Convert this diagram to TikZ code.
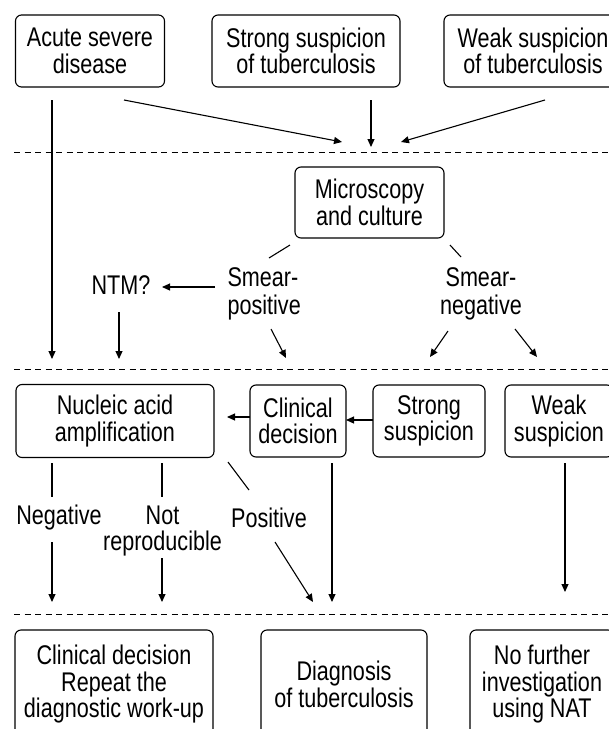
\documentclass[tikz,border=0pt]{standalone}
\usepackage{fontspec}
\setmainfont{Liberation Sans}[FakeStretch=0.8]
\usetikzlibrary{arrows.meta}
\begin{document}
\begin{tikzpicture}[x=1pt,y=-1pt,line width=1.1pt,
  box/.style={draw,rounded corners=6pt,align=center,inner sep=0pt,font=\fontsize{27}{26.5}\selectfont},
  lab/.style={align=center,inner sep=1pt,font=\fontsize{27}{26.5}\selectfont},
  arr/.style={-{Triangle[length=8pt,width=7pt]}},
  dsh/.style={line width=1pt,dash pattern=on 6pt off 4.5pt}]
\useasboundingbox (0,0) rectangle (609,729);
\clip (0,0) rectangle (609,729);
% top row
\node[box,minimum width=149pt,minimum height=72pt] (acute) at (90,51) {Acute severe\\disease};
\node[box,minimum width=188pt,minimum height=72pt] (strong) at (306,51) {Strong suspicion\\of tuberculosis};
\node[box,minimum width=178pt,minimum height=72pt] (weak) at (533,51) {Weak suspicion\\of tuberculosis};
% second row
\node[box,minimum width=149pt,minimum height=71pt] (micro) at (369.5,202.5) {Microscopy\\and culture};
\node[lab,align=left,anchor=west] (spos) at (226,294) {Smear-\\[1.5pt]positive};
\node[lab] (sneg) at (481,294) {Smear-\\[1.5pt]negative};
\node[lab] (ntm) at (121,285.5) {NTM?};
% third row
\node[box,minimum width=198pt,minimum height=73pt] (naa) at (115,421) {Nucleic acid\\amplification};
\node[box,minimum width=96pt,minimum height=72pt] (clin) at (298,421) {Clinical\\decision};
\node[box,minimum width=112pt,minimum height=72pt] (strong2) at (429,421) {Strong\\suspicion};
\node[box,minimum width=108pt,minimum height=72pt] (weak2) at (559,421) {Weak\\suspicion};
\node[lab] (neg) at (59,518) {Negative};
\node[lab] (notr) at (162.5,531) {Not\\reproducible};
\node[lab] (pos) at (269,518) {Positive};
% bottom row
\node[box,minimum width=198pt,minimum height=109pt] (cd) at (114,684.5) {Clinical decision\\Repeat the\\diagnostic work-up};
\node[box,minimum width=166pt,minimum height=109pt] (diag) at (344,684.5) {Diagnosis\\of tuberculosis};
\node[box,minimum width=144pt,minimum height=109pt] (nof) at (542,684.5) {No further\\investigation\\using NAT};
% dashed separators
\draw[dsh] (14,152) -- (609,152);
\draw[dsh] (14,369) -- (609,369);
\draw[dsh] (14,614) -- (609,614);
% coordinates
\coordinate (a1s) at (124,100); \coordinate (a1e) at (342,142);
\coordinate (a2s) at (371,100); \coordinate (a2e) at (371,147);
\coordinate (a3s) at (545,100); \coordinate (a3e) at (401,142);
\coordinate (a4s) at (52,100);  \coordinate (a4e) at (52,359);
\coordinate (m1s) at (290,245); \coordinate (m1e) at (269,258);
\coordinate (m2s) at (450,245); \coordinate (m2e) at (461,257);
\coordinate (n1s) at (215,287); \coordinate (n1e) at (162,287);
\coordinate (n2s) at (119,312); \coordinate (n2e) at (119,359);
\coordinate (p1s) at (271,329); \coordinate (p1e) at (286,358);
\coordinate (q1s) at (448,331); \coordinate (q1e) at (430,357);
\coordinate (q2s) at (515,329); \coordinate (q2e) at (537,357);
\coordinate (c1s) at (250,417); \coordinate (c1e) at (227,417);
\coordinate (c2s) at (373,420); \coordinate (c2e) at (346,420);
\coordinate (g1s) at (52,463);  \coordinate (g1e) at (52,497);
\coordinate (g2s) at (52,542);  \coordinate (g2e) at (52,602);
\coordinate (r1s) at (162,463); \coordinate (r1e) at (162,497);
\coordinate (r2s) at (162,558); \coordinate (r2e) at (162,602);
\coordinate (o1s) at (228,462); \coordinate (o1e) at (249,490);
\coordinate (o2s) at (275,542); \coordinate (o2e) at (313,602);
\coordinate (k1s) at (332,463); \coordinate (k1e) at (332,602);
\coordinate (w1s) at (565,463); \coordinate (w1e) at (565,592);
% connectors
\draw[arr] (a1s) -- (a1e);
\draw[arr] (a2s) -- (a2e);
\draw[arr] (a3s) -- (a3e);
\draw[arr] (a4s) -- (a4e);
\draw (m1s) -- (m1e);
\draw (m2s) -- (m2e);
\draw[arr] (n1s) -- (n1e);
\draw[arr] (n2s) -- (n2e);
\draw[arr] (p1s) -- (p1e);
\draw[arr] (q1s) -- (q1e);
\draw[arr] (q2s) -- (q2e);
\draw[arr] (c1s) -- (c1e);
\draw[arr] (c2s) -- (c2e);
\draw (g1s) -- (g1e);
\draw[arr] (g2s) -- (g2e);
\draw (r1s) -- (r1e);
\draw[arr] (r2s) -- (r2e);
\draw (o1s) -- (o1e);
\draw[arr] (o2s) -- (o2e);
\draw[arr] (k1s) -- (k1e);
\draw[arr] (w1s) -- (w1e);
\end{tikzpicture}
\end{document}
